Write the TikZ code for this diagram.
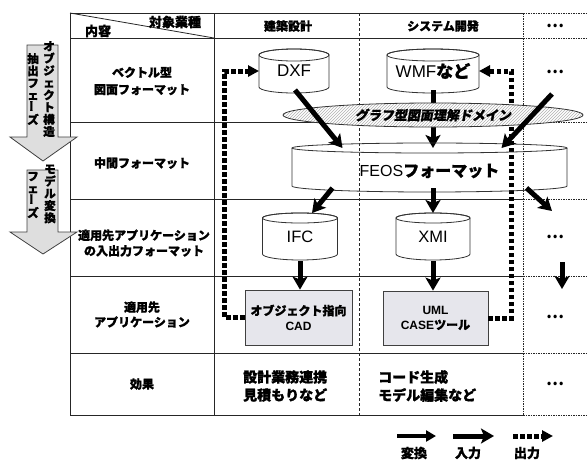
\documentclass[tikz,border=0pt]{standalone}
\usepackage{fontspec}
\usepackage{graphicx}
\setmainfont{Noto Sans CJK JP}
\newfontfamily\arial{Liberation Sans}
\newfontfamily\jpsl{Noto Sans CJK JP}[FakeSlant=0.18]
\newcommand\hb{\bfseries\addfontfeature{FakeBold=1.2}}
\usetikzlibrary{arrows.meta,patterns,calc,shapes.geometric}
\definecolor{boxgray}{RGB}{230,230,236}
\definecolor{arrgray}{RGB}{222,222,222}
\newcommand\vbar{\rotatebox{90}{ー}}
\tikzset{
  tbl/.style={line width=0.8pt, draw=black!85},
  tbldash/.style={line width=0.8pt, draw=black!85, dash pattern=on 3pt off 2pt},
  tbldot/.style={line width=0.8pt, draw=black!85, dash pattern=on 1.5pt off 1pt},
  cylline/.style={line width=0.8pt, draw=black!80},
  cylnode/.style={inner sep=0pt, outer sep=0pt, draw=none},
  conv/.style={line width=5pt, -{Stealth[length=13pt,width=15pt,inset=3pt]}},
  conva/.style={line width=4.5pt, -{Triangle[length=10pt,width=11pt]}},
  outp/.style={line width=5pt, dash pattern=on 4.5pt off 2.5pt, -{Triangle[length=11pt,width=11pt]}},
  bigarrow/.style={fill=arrgray, draw=black!75, line width=0.8pt},
  vtxt/.style={align=center, inner sep=0pt, font=\hb\fontsize{11.5}{12.2}\selectfont},
  grbox/.style={draw=black!75, line width=0.8pt, fill=boxgray, align=center, inner sep=0pt},
  lbl/.style={align=center, inner sep=0pt},
  dots/.style={inner sep=0pt, font=\bfseries\fontsize{16}{16}\selectfont},
}
\begin{document}
\begin{tikzpicture}[x=1pt,y=-1pt, font=\hb\fontsize{12}{15}\selectfont]
\useasboundingbox (0,0) rectangle (587,459);
\fill[white] (0,0) rectangle (587,459);

% ---------- table ----------
\foreach \yy in {13,38,122,199,276,353,415} {
  \draw[tbl] (70,\yy) -- (523,\yy);
  \draw[tbldot] (523,\yy) -- (587,\yy);
}
\draw[tbl] (70,13) -- (70,415) (214,13) -- (214,415);
\draw[tbl] (70,13) -- (214,38);
\draw[tbldash] (359,13) -- (359,415);
\draw[tbldot] (523,13) -- (523,415);

% header texts
\node[lbl, font=\hb\fontsize{13}{13}\selectfont] (hobj) at (175,22) {対象業種};
\node[lbl, font=\hb\fontsize{13}{13}\selectfont] (hcont) at (98,31) {内容};
\node[lbl] (hkc) at (288,26) {建築設計};
\node[lbl] (hsys) at (443,26) {システム開発};
\node[dots] (hdot) at (555,26) {…};

% row labels
\node[lbl, font=\hb\fontsize{12}{17}\selectfont] (r1) at (142,81) {ベクトル型\\図面フォーマット};
\node[lbl] (r2) at (142,163) {中間フォーマット};
\node[lbl, font=\hb\fontsize{12}{15.5}\selectfont] (r3) at (144,243) {適用先アプリケーション\\の入出力フォーマット};
\node[lbl] (r4) at (142,314.5) {適用先\\アプリケーション};
\node[lbl] (r5) at (142,384) {効果};

% column 4 dots
\node[dots] (d1) at (555,72) {…};
\node[dots] (d3) at (555,237) {…};
\node[dots] (d4) at (555,317) {…};
\node[dots] (d5) at (555,384) {…};

% effects
\node[lbl, align=left, anchor=west, font=\hb\fontsize{14}{18}\selectfont] (e2) at (243,386) {設計業務連携\\見積もりなど};
\node[lbl, align=left, anchor=west, font=\hb\fontsize{14}{18}\selectfont] (e3) at (378,386) {コード生成\\モデル編集など};

% ---------- phase arrows ----------
\draw[bigarrow] (27,45) -- (58,45) -- (58,137) -- (77,137) -- (43,161) -- (10,137) -- (27,137) -- cycle;
\draw[bigarrow] (27,170) -- (58,170) -- (58,232) -- (77,232) -- (43,254) -- (10,232) -- (27,232) -- cycle;
\node[vtxt] (p1a) at (49,89) {オ\\ブ\\ジ\\ェ\\ク\\ト\\構\\造};
\node[vtxt] (p1b) at (33,89) {抽\\出\\フ\\ェ\\\vbar\\ズ};
\node[vtxt] (p2a) at (50,194) {モ\\デ\\ル\\変\\換};
\node[vtxt] (p2b) at (33,195) {フ\\ェ\\\vbar\\ズ};

% ---------- cylinders DXF / WMF ----------
\path[cylline, fill=white] (259,55) -- (259,87) arc[start angle=180,end angle=0,x radius=35,y radius=6] -- (329,55) arc[start angle=0,end angle=-180,x radius=35,y radius=6] -- cycle;
\draw[cylline] (294,55) ellipse[x radius=35, y radius=6];
\node[cylnode, minimum width=70, minimum height=38, font=\arial\fontsize{17}{17}\selectfont] (dxf) at (294,71) {DXF};

\path[cylline, fill=white] (387,55) -- (387,87) arc[start angle=180,end angle=0,x radius=46,y radius=6] -- (479,55) arc[start angle=0,end angle=-180,x radius=46,y radius=6] -- cycle;
\draw[cylline] (433,55) ellipse[x radius=46, y radius=6];
\node[cylnode, minimum width=92, minimum height=38, font=\hb\fontsize{17}{17}\selectfont] (wmf) at (433,71) {{\arial\mdseries WMF}など};

% ---------- output (dotted) arrows ----------
\node[grbox, minimum width=107, minimum height=55] (cad) at (298.5,317.5) {オブジェクト指向\\{\arial\bfseries CAD}};
\node[grbox, minimum width=105, minimum height=54] (uml) at (435.5,318) {{\arial\bfseries UML}\\{\arial\bfseries CASE}ツール};
\draw[outp] (cad.west) -- ++(-20,0) |- (dxf.west);
\draw[outp] (uml.east) -- ++(23,0) |- (wmf.east);

% WMF -> FEOS (behind the ellipse)
\node[cylnode, minimum width=275, minimum height=40] (feos) at (429.5,168) {};
\draw[conv] (wmf.south) -- (wmf.south |- feos.north);

% ---------- domain ellipse ----------
\node[ellipse, draw=black!80, line width=0.8pt, minimum width=300, minimum height=24, inner sep=0pt,
      preaction={fill=white}, pattern=north east lines, pattern color=black!30,
      font=\jpsl\bfseries\addfontfeature{FakeBold=1.2}\fontsize{13}{13}\selectfont] (dom) at (433,115) {グラフ型図面理解ドメイン};

% ---------- FEOS cylinder (unfilled) ----------
\draw[cylline] (292,148) -- (292,186) arc[start angle=180,end angle=0,x radius=137.5,y radius=6] -- (567,148);
\draw[cylline] (429.5,148) ellipse[x radius=137.5, y radius=5];
\node[cylnode, font=\hb\fontsize{16}{16}\selectfont] (feostxt) at (429.5,171) {{\arial\mdseries FEOS}フォーマット};

% ---------- IFC / XMI ----------
\path[cylline, fill=white] (262.5,218) -- (262.5,254) arc[start angle=180,end angle=0,x radius=37.5,y radius=6] -- (337.5,218) arc[start angle=0,end angle=-180,x radius=37.5,y radius=5] -- cycle;
\draw[cylline] (300,218) ellipse[x radius=37.5, y radius=5];
\node[cylnode, minimum width=75, minimum height=36, font=\arial\fontsize{16.5}{16.5}\selectfont] (ifc) at (300,237) {IFC};

\path[cylline, fill=white] (396,218) -- (396,254) arc[start angle=180,end angle=0,x radius=37,y radius=6] -- (470,218) arc[start angle=0,end angle=-180,x radius=37,y radius=5] -- cycle;
\draw[cylline] (433,218) ellipse[x radius=37, y radius=5];
\node[cylnode, minimum width=74, minimum height=36, font=\arial\fontsize{16.5}{16.5}\selectfont] (xmi) at (433,237) {XMI};

% ---------- conversion / input arrows ----------
\coordinate (c4in) at (552,94);
\coordinate (c4out) at (552,211);
\coordinate (c4a) at (562,262);
\coordinate (c4b) at (562,289);
\draw[conv] ($(dxf.south)+(1,0)$) -- ([xshift=-87pt]feos.north);
\draw[conv] (c4in) -- ([xshift=72pt]feos.north);
\draw[conv] ([xshift=-97pt]feos.south) -- ([xshift=12pt,yshift=6pt]ifc.north);
\draw[conv] (xmi.north |- feos.south) -- ([yshift=6pt]xmi.north);
\draw[conv] ([xshift=97pt]feos.south) -- (c4out);
\draw[conv] ($(ifc.south)+(0,6)$) -- (ifc.south |- cad.north);
\draw[conv] ($(xmi.south)+(0,6)$) -- (xmi.south |- uml.north);
\draw[conv] (c4a) -- (c4b);

% ---------- legend ----------
\coordinate (l1a) at (397,436); \coordinate (l1b) at (436,436);
\coordinate (l2a) at (453,436); \coordinate (l2b) at (494,436);
\coordinate (l3a) at (513,436); \coordinate (l3b) at (553,436);
\draw[conva] (l1a) -- (l1b);
\draw[conv] (l2a) -- (l2b);
\draw[outp] (l3a) -- (l3b);
\node[lbl, font=\hb\fontsize{13}{13}\selectfont] (t1) at (414,453) {変換};
\node[lbl, font=\hb\fontsize{13}{13}\selectfont] (t2) at (468,453) {入力};
\node[lbl, font=\hb\fontsize{13}{13}\selectfont] (t3) at (527,453) {出力};
\end{tikzpicture}
\end{document}
